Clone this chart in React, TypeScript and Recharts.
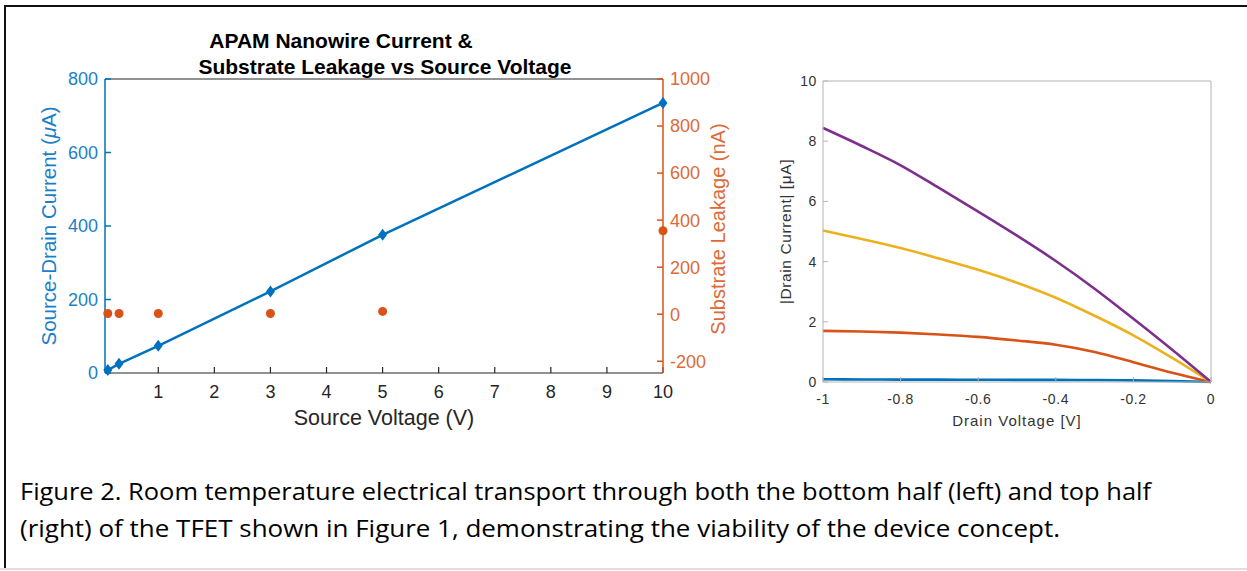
import { ComposedChart, LineChart, Line, XAxis, YAxis } from "recharts"

// ── Data ──────────────────────────────────────────────────────────────────────

// left panel: bottom half of the device
const sourceV = [0.1, 0.3, 1, 3, 5, 10]
const sourceDrainUA = [8, 25, 74, 222, 376, 735]
const leakageNA = [3, 3, 3, 3, 12, 355]
const sourceTicks = [1, 2, 3, 4, 5, 6, 7, 8, 9, 10]
const currentTicks = [0, 200, 400, 600, 800]
const leakTicks = [-200, 0, 200, 400, 600, 800, 1000]

// right panel: top half, |Id| vs Vd
const drainV = [-1, -0.9, -0.8, -0.7, -0.6, -0.5, -0.4, -0.3, -0.2, -0.1, 0]
const idBlue = [0.09, 0.085, 0.08, 0.078, 0.075, 0.072, 0.07, 0.065, 0.055, 0.035, 0]
const idOrange = [1.7, 1.68, 1.64, 1.58, 1.5, 1.38, 1.24, 1.0, 0.66, 0.31, 0]
const idYellow = [5.03, 4.75, 4.45, 4.1, 3.73, 3.3, 2.8, 2.2, 1.55, 0.8, 0]
const idPurple = [8.44, 7.84, 7.2, 6.44, 5.66, 4.86, 4.02, 3.1, 2.1, 1.07, 0]
const drainTicks = [-1, -0.8, -0.6, -0.4, -0.2, 0]
const idTicks = [0, 2, 4, 6, 8, 10]

const leftRows = sourceV.map((v, i) => ({ v, current: sourceDrainUA[i], leak: leakageNA[i] }))
const rightRows = drainV.map((v, i) => ({
  v,
  blue: idBlue[i],
  orange: idOrange[i],
  yellow: idYellow[i],
  purple: idPurple[i],
}))

// ── Styles ────────────────────────────────────────────────────────────────────

const FONT = '"Liberation Sans", Arial, Helvetica, sans-serif'
const BLUE = "#0072BD"
const BLUE_TXT = "#1a7fc8"
const ORANGE = "#D95319"
const ORANGE_TXT = "#dd6a38"
const YELLOW = "#EDB120"
const PURPLE = "#7E2F8E"
const DARK = "#262626"
const BOX = "#b4b4b4"

function Diamond(props: any) {
  const { cx, cy } = props
  if (cx == null || cy == null) return null
  return (
    <path
      d={`M${cx},${cy - 6} L${cx + 4.5},${cy} L${cx},${cy + 6} L${cx - 4.5},${cy} Z`}
      fill={BLUE}
    />
  )
}

// ── Left panel ────────────────────────────────────────────────────────────────

function LeftPanel() {
  return (
    <ComposedChart
      width={760}
      height={440}
      data={leftRows}
      margin={{ top: 78, right: 40, bottom: 0, left: 0 }}
      style={{ position: "absolute", left: 0, top: 0 }}
    >
      <XAxis
        xAxisId="top"
        orientation="top"
        type="number"
        dataKey="v"
        domain={[0.05, 10]}
        ticks={sourceTicks}
        height={1}
        tick={false}
        tickSize={-6}
        stroke={DARK}
        strokeWidth={1.2}
      />
      <XAxis
        type="number"
        dataKey="v"
        domain={[0.05, 10]}
        ticks={sourceTicks}
        height={67}
        tickSize={-6}
        tickMargin={18}
        stroke={DARK}
        strokeWidth={1.2}
        tick={{ fill: DARK, fontSize: 18, fontFamily: FONT }}
        label={(p: any) => {
          const vb = p.viewBox
          return (
            <text
              x={vb.x + vb.width / 2}
              y={vb.y + 45}
              textAnchor="middle"
              dominantBaseline="central"
              fill={DARK}
              style={{ fontSize: 21.5, fontFamily: FONT }}
            >
              Source Voltage (V)
            </text>
          )
        }}
      />
      <YAxis
        yAxisId="left"
        domain={[0, 800]}
        ticks={currentTicks}
        width={105}
        tickSize={-6}
        tickMargin={13}
        stroke={BLUE}
        strokeWidth={1.5}
        tick={{ fill: BLUE_TXT, fontSize: 18, fontFamily: FONT }}
        label={(p: any) => {
          const vb = p.viewBox
          const x = vb.x + 48
          const y = vb.y + vb.height / 2
          return (
            <text
              x={x}
              y={y}
              transform={`rotate(-90, ${x}, ${y})`}
              textAnchor="middle"
              dominantBaseline="central"
              fill={BLUE_TXT}
              style={{ fontSize: 20.5, fontFamily: FONT }}
            >
              Source-Drain Current (<tspan fontStyle="italic">μ</tspan>A)
            </text>
          )
        }}
      />
      <YAxis
        yAxisId="right"
        orientation="right"
        domain={[-250, 1000]}
        ticks={leakTicks}
        width={57}
        tickSize={-6}
        tickMargin={13}
        stroke={ORANGE}
        strokeWidth={1.5}
        tick={{ fill: ORANGE_TXT, fontSize: 18, fontFamily: FONT }}
        label={(p: any) => {
          const vb = p.viewBox
          const x = vb.x + 55
          const y = vb.y + vb.height / 2 + 3
          return (
            <text
              x={x}
              y={y}
              transform={`rotate(-90, ${x}, ${y})`}
              textAnchor="middle"
              dominantBaseline="central"
              fill={ORANGE_TXT}
              style={{ fontSize: 20, fontFamily: FONT }}
            >
              Substrate Leakage (nA)
            </text>
          )
        }}
      />
      <Line
        yAxisId="left"
        dataKey="current"
        stroke={BLUE}
        strokeWidth={2.5}
        dot={<Diamond />}
        activeDot={false}
        isAnimationActive={false}
      />
      <Line
        yAxisId="right"
        dataKey="leak"
        stroke="none"
        dot={{ r: 4.5, fill: ORANGE, stroke: ORANGE, strokeWidth: 0 }}
        activeDot={false}
        isAnimationActive={false}
      />
    </ComposedChart>
  )
}

// ── Right panel ───────────────────────────────────────────────────────────────

function RightPanel() {
  const tickStyle = { fill: "#333333", fontSize: 14, fontFamily: FONT, letterSpacing: 0.6 }
  return (
    <LineChart
      width={480}
      height={450}
      data={rightRows}
      margin={{ top: 80, right: 28, bottom: 0, left: 0 }}
      style={{ position: "absolute", left: 760, top: 0 }}
    >
      <XAxis
        xAxisId="top"
        orientation="top"
        type="number"
        dataKey="v"
        domain={[-1, 0]}
        ticks={drainTicks}
        height={1}
        tick={false}
        tickSize={-5}
        stroke={BOX}
      />
      <XAxis
        type="number"
        dataKey="v"
        domain={[-1, 0]}
        ticks={drainTicks}
        height={68}
        tickSize={-5}
        tickMargin={17}
        stroke={BOX}
        tick={tickStyle}
        tickFormatter={(v: number) => String(v)}
        label={(p: any) => {
          const vb = p.viewBox
          return (
            <text
              x={vb.x + vb.width / 2}
              y={vb.y + 38}
              textAnchor="middle"
              dominantBaseline="central"
              fill="#333333"
              style={{ fontSize: 15, fontFamily: FONT, letterSpacing: 1 }}
            >
              Drain Voltage [V]
            </text>
          )
        }}
      />
      <YAxis
        domain={[0, 10]}
        ticks={idTicks}
        width={63}
        tickSize={-5}
        tickMargin={11}
        stroke={BOX}
        tick={tickStyle}
        label={(p: any) => {
          const vb = p.viewBox
          const x = vb.x + 25
          const y = vb.y + vb.height / 2
          return (
            <text
              x={x}
              y={y}
              transform={`rotate(-90, ${x}, ${y})`}
              textAnchor="middle"
              dominantBaseline="central"
              fill="#333333"
              style={{ fontSize: 15.5, fontFamily: FONT, letterSpacing: 0.6 }}
            >
              |Drain Current| [μA]
            </text>
          )
        }}
      />
      <YAxis
        yAxisId="box"
        orientation="right"
        domain={[0, 10]}
        ticks={idTicks}
        width={1}
        tick={false}
        tickSize={-5}
        stroke={BOX}
      />
      <Line type="monotone" dataKey="blue" stroke={BLUE} strokeWidth={2.6} dot={false} activeDot={false} isAnimationActive={false} />
      <Line type="monotone" dataKey="orange" stroke={ORANGE} strokeWidth={2.6} dot={false} activeDot={false} isAnimationActive={false} />
      <Line type="monotone" dataKey="yellow" stroke={YELLOW} strokeWidth={2.6} dot={false} activeDot={false} isAnimationActive={false} />
      <Line type="monotone" dataKey="purple" stroke={PURPLE} strokeWidth={2.6} dot={false} activeDot={false} isAnimationActive={false} />
    </LineChart>
  )
}

// ── Page ──────────────────────────────────────────────────────────────────────

export default function App() {
  return (
    <div
      style={{
        position: "absolute",
        left: 0,
        top: 0,
        width: 1247,
        height: 571,
        background: "#ffffff",
        overflow: "hidden",
      }}
    >
      {/* frame */}
      <div style={{ position: "absolute", left: 4, top: 5, width: 1243, height: 2, background: "#111" }} />
      <div style={{ position: "absolute", left: 4, top: 5, width: 2, height: 564, background: "#111" }} />
      <div style={{ position: "absolute", left: 0, top: 568, width: 1247, height: 2, background: "#dedede" }} />

      <LeftPanel />
      <RightPanel />

      <svg width={1247} height={571} style={{ position: "absolute", left: 0, top: 0, pointerEvents: "none" }}>
        <text x={341} y={40} textAnchor="middle" dominantBaseline="central" fill="#000" style={{ fontSize: 21, fontWeight: 700, fontFamily: FONT }}>
          APAM Nanowire Current &amp;
        </text>
        <text x={385} y={66} textAnchor="middle" dominantBaseline="central" fill="#000" style={{ fontSize: 21, fontWeight: 700, fontFamily: FONT }}>
          Substrate Leakage vs Source Voltage
        </text>
        <text x={20} y={500} textLength={1131} lengthAdjust="spacingAndGlyphs" fill="#000" style={{ fontSize: 23, fontFamily: '"Open Sans", "Noto Sans", sans-serif' }}>
          Figure 2. Room temperature electrical transport through both the bottom half (left) and top half
        </text>
        <text x={20} y={537} textLength={1040} lengthAdjust="spacingAndGlyphs" fill="#000" style={{ fontSize: 23, fontFamily: '"Open Sans", "Noto Sans", sans-serif' }}>
          (right) of the TFET shown in Figure 1, demonstrating the viability of the device concept.
        </text>
      </svg>
    </div>
  )
}
